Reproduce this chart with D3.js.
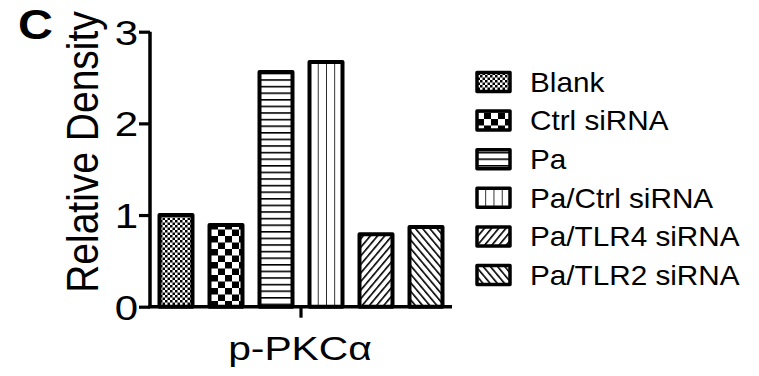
<!DOCTYPE html>
<html>
<head>
<meta charset="utf-8">
<script src="https://cdn.jsdelivr.net/npm/d3@7"></script>
<style>
  html, body { margin: 0; padding: 0; background: #fff; }
  svg { display: block; font-family: "Liberation Sans", Arial, sans-serif; }
</style>
</head>
<body>
<svg id="chart" width="759" height="376"></svg>
<script>
// Relative density of p-PKCα per treatment group
const categories = ["Blank", "Ctrl siRNA", "Pa", "Pa/Ctrl siRNA", "Pa/TLR4 siRNA", "Pa/TLR2 siRNA"];
const values = [1.0, 0.89, 2.56, 2.67, 0.79, 0.87];
const patternIds = ["finecheck", "coarsecheck", "hlines", "vlines", "fwdiag", "backdiag"];
const yTicks = [0, 1, 2, 3];
const yLabel = "Relative Density";
const xLabel = "p-PKCα";
const panelLetter = "C";

const svg = d3.select("#chart");
const defs = svg.append("defs");

// Fill patterns
const pFine = defs.append("pattern").attr("id", "finecheck")
  .attr("patternUnits", "userSpaceOnUse").attr("width", 5).attr("height", 5);
pFine.append("rect").attr("width", 5).attr("height", 5).attr("fill", "#fff");
pFine.append("rect").attr("width", 2.5).attr("height", 2.5).attr("fill", "#000");
pFine.append("rect").attr("x", 2.5).attr("y", 2.5).attr("width", 2.5).attr("height", 2.5).attr("fill", "#000");

const pCoarse = defs.append("pattern").attr("id", "coarsecheck")
  .attr("patternUnits", "userSpaceOnUse").attr("width", 14).attr("height", 13)
  .attr("x", 1).attr("y", 2);
pCoarse.append("rect").attr("width", 14).attr("height", 13).attr("fill", "#fff");
pCoarse.append("rect").attr("width", 7).attr("height", 6.5).attr("fill", "#000");
pCoarse.append("rect").attr("x", 7).attr("y", 6.5).attr("width", 7).attr("height", 6.5).attr("fill", "#000");

const pH = defs.append("pattern").attr("id", "hlines")
  .attr("patternUnits", "userSpaceOnUse").attr("width", 10).attr("height", 6.6);
pH.append("rect").attr("width", 10).attr("height", 6.6).attr("fill", "#fff");
pH.append("rect").attr("y", 0).attr("width", 10).attr("height", 1.6).attr("fill", "#000");

const pV = defs.append("pattern").attr("id", "vlines")
  .attr("patternUnits", "objectBoundingBox").attr("width", 0.25).attr("height", 1);
pV.append("rect").attr("width", 40).attr("height", 400).attr("fill", "#fff");
pV.append("rect").attr("x", -0.8).attr("width", 1.6).attr("height", 400).attr("fill", "#000");

function diag(id, angle) {
  const p = defs.append("pattern").attr("id", id)
    .attr("patternUnits", "userSpaceOnUse").attr("width", 5.5).attr("height", 5.5)
    .attr("patternTransform", `rotate(${angle})`);
  p.append("rect").attr("width", 5.5).attr("height", 5.5).attr("fill", "#fff");
  p.append("rect").attr("width", 1.6).attr("height", 5.5).attr("fill", "#000");
}
diag("fwdiag", 40);
diag("backdiag", -40);

// Scales
const x = d3.scaleBand().domain(categories).range([150, 452])
  .paddingInner(0.34).paddingOuter(0.19);
const y = d3.scaleLinear().domain([0, 3]).range([306.7, 31.7]);

// Horizontally widened text helper
function stretchedText(parent, tx, ty, sx, rot) {
  const g = parent.append("g")
    .attr("transform", `translate(${tx},${ty}) scale(${sx},1)` + (rot ? ` rotate(${rot})` : ""));
  return g.append("text");
}

// Bars
svg.append("g").selectAll("rect")
  .data(categories)
  .join("rect")
  .attr("x", d => x(d))
  .attr("width", x.bandwidth())
  .attr("y", (d, i) => y(values[i]))
  .attr("height", (d, i) => y(0) - y(values[i]))
  .attr("fill", (d, i) => `url(#${patternIds[i]})`)
  .attr("stroke", "#000")
  .attr("stroke-width", 4)
  .attr("stroke-linejoin", "round");

// Y axis
const yAxis = svg.append("g").attr("transform", "translate(150,0)")
  .call(d3.axisLeft(y).tickValues(yTicks).tickFormat(d3.format("d")).tickSize(11).tickPadding(2));
yAxis.select(".domain").attr("stroke-width", 3.5).attr("d", `M0,${y(3)}V${y(0)}`);
yAxis.selectAll(".tick line").attr("stroke-width", 3.2);
yAxis.selectAll(".tick text").remove();
yAxis.selectAll(".tick").each(function (d) {
  stretchedText(d3.select(this), -12, 0, 1.2)
    .attr("text-anchor", "end")
    .attr("dy", "0.36em")
    .attr("font-size", 35)
    .attr("fill", "#000")
    .text(d);
});

// X axis
svg.append("line")
  .attr("x1", 148.3).attr("x2", 452)
  .attr("y1", y(0)).attr("y2", y(0))
  .attr("stroke", "#000").attr("stroke-width", 3.5);
svg.append("line")
  .attr("x1", 301).attr("x2", 301)
  .attr("y1", y(0)).attr("y2", y(0) + 11)
  .attr("stroke", "#000").attr("stroke-width", 3.2);

// Axis titles
stretchedText(svg, 300, 360, 1.2)
  .attr("text-anchor", "middle")
  .attr("font-size", 34)
  .text(xLabel);

stretchedText(svg, 98, 152, 1.15, -90)
  .attr("text-anchor", "middle")
  .attr("font-size", 39)
  .text(yLabel);

stretchedText(svg, 18, 39, 1.15)
  .attr("font-size", 42)
  .attr("font-weight", "bold")
  .text(panelLetter);

// Legend
const legend = svg.append("g");
const rowY = i => 82 + i * 38.6;
categories.forEach((c, i) => {
  legend.append("rect")
    .attr("x", 477).attr("y", rowY(i) - 9.5)
    .attr("width", 33).attr("height", 19)
    .attr("fill", `url(#${patternIds[i]})`)
    .attr("stroke", "#000").attr("stroke-width", 3.5)
    .attr("stroke-linejoin", "round");
  stretchedText(legend, 530, rowY(i), 1.1)
    .attr("dy", "0.36em")
    .attr("font-size", 27)
    .text(c);
});
</script>
</body>
</html>
